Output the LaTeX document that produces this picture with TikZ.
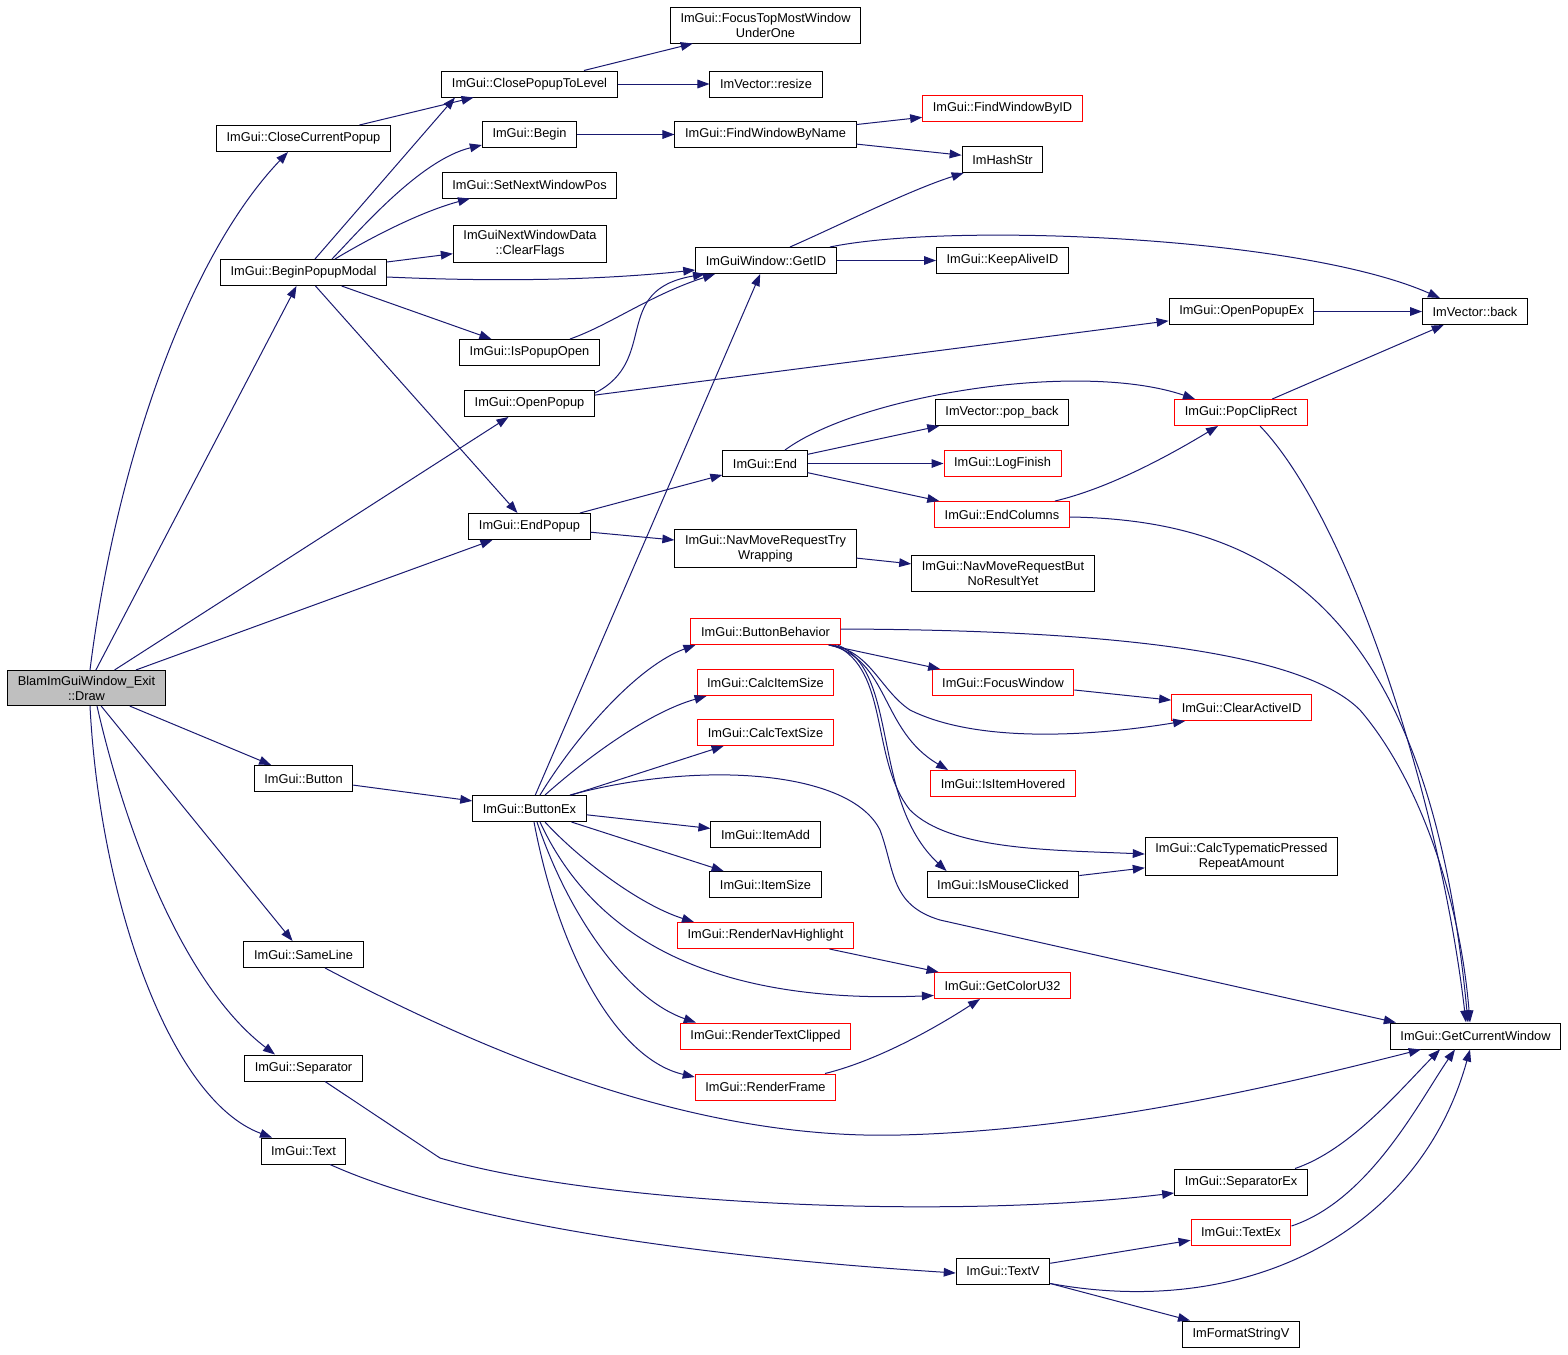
\documentclass[tikz,border=0pt]{standalone}
\usepackage{fontspec}
\setmainfont{Liberation Sans}
\usetikzlibrary{arrows.meta}
\usetikzlibrary{calc}
\definecolor{edgeblue}{HTML}{191970}
\definecolor{rootgray}{HTML}{BFBFBF}

\begin{document}
\begin{tikzpicture}[
      x = 0.75pt, y = -0.75pt,
      fn/.style = {
        draw = black, line width = 0.75pt, fill = white,
        font = \fontsize{9.6}{11.25}\selectfont,
        align = center, inner xsep = 7.6pt, inner ysep = 4pt,
        minimum height = 19.5pt
      },
      truncated/.style = { draw = red },
      root/.style = { fill = rootgray },
      call/.style = {
        draw = edgeblue, line width = 0.75pt,
        -{Triangle[length = 9pt, width = 6.5pt]}
      },
    ]

    \useasboundingbox (0,0) rectangle (1568,1354);

    % callers
    \node[fn, root] (D) at (86.5,688) {BlamImGuiWindow\_Exit\\::Draw};
    \node[fn] (CCP) at (303.5,138.5) {ImGui::CloseCurrentPopup};
    \node[fn] (BPM) at (303.5,272.5) {ImGui::BeginPopupModal};
    \node[fn] (BTN) at (303.5,778.5) {ImGui::Button};
    \node[fn] (SL) at (303.5,954.5) {ImGui::SameLine};
    \node[fn] (SEP) at (303.5,1068) {ImGui::Separator};
    \node[fn] (TXT) at (303.5,1151) {ImGui::Text};

    \node[fn] (CPTL) at (529.5,84) {ImGui::ClosePopupToLevel};
    \node[fn] (BEG) at (529.5,134.5) {ImGui::Begin};
    \node[fn] (SNWP) at (529.5,185) {ImGui::SetNextWindowPos};
    \node[fn] (CLF) at (530,244) {ImGuiNextWindowData\\::ClearFlags};
    \node[fn] (IPO) at (529.5,352.5) {ImGui::IsPopupOpen};
    \node[fn] (OP) at (529.5,403.5) {ImGui::OpenPopup};
    \node[fn] (EPOP) at (529.5,526.5) {ImGui::EndPopup};
    \node[fn] (BEX) at (529.5,808.5) {ImGui::ButtonEx};

    \node[fn] (FTM) at (765.5,25.5) {ImGui::FocusTopMostWindow\\UnderOne};
    \node[fn] (RES) at (766,84) {ImVector::resize};
    \node[fn] (FWBN) at (765.5,134.5) {ImGui::FindWindowByName};
    \node[fn] (GID) at (766,260.5) {ImGuiWindow::GetID};
    \node[fn] (END) at (765,463.5) {ImGui::End};
    \node[fn] (NMRT) at (765.5,548.5) {ImGui::NavMoveRequestTry\\Wrapping};
    \node[fn, truncated] (BB) at (765.5,631.5) {ImGui::ButtonBehavior};
    \node[fn, truncated] (CIS) at (765.5,682.5) {ImGui::CalcItemSize};
    \node[fn, truncated] (CTS) at (765.5,732.5) {ImGui::CalcTextSize};
    \node[fn] (IADD) at (765.5,834.5) {ImGui::ItemAdd};
    \node[fn] (ISIZE) at (765.5,884.5) {ImGui::ItemSize};
    \node[fn, truncated] (RNH) at (765.5,935.5) {ImGui::RenderNavHighlight};
    \node[fn, truncated] (RTC) at (765.5,1036) {ImGui::RenderTextClipped};
    \node[fn, truncated] (RF) at (765.5,1087) {ImGui::RenderFrame};

    \node[fn, truncated] (FWBID) at (1002.5,108.5) {ImGui::FindWindowByID};
    \node[fn] (HASH) at (1002.5,159.5) {ImHashStr};
    \node[fn] (KAID) at (1002.5,260.5) {ImGui::KeepAliveID};
    \node[fn] (POPB) at (1002,412.5) {ImVector::pop\_back};
    \node[fn, truncated] (LOGF) at (1002.5,463.5) {ImGui::LogFinish};
    \node[fn, truncated] (ENDC) at (1002,514.5) {ImGui::EndColumns};
    \node[fn] (NMRB) at (1003,573.5) {ImGui::NavMoveRequestBut\\NoResultYet};
    \node[fn, truncated] (FW) at (1003,682.5) {ImGui::FocusWindow};
    \node[fn, truncated] (IIH) at (1003,783.5) {ImGui::IsItemHovered};
    \node[fn] (IMC) at (1003,884.5) {ImGui::IsMouseClicked};
    \node[fn, truncated] (GCU) at (1002.5,985.5) {ImGui::GetColorU32};
    \node[fn] (TV) at (1003,1271) {ImGui::TextV};

    \node[fn] (OPEX) at (1241.5,311.5) {ImGui::OpenPopupEx};
    \node[fn, truncated] (PCR) at (1241,412.5) {ImGui::PopClipRect};
    \node[fn, truncated] (CAID) at (1241.5,707.5) {ImGui::ClearActiveID};
    \node[fn] (CTP) at (1241.5,856.5) {ImGui::CalcTypematicPressed\\RepeatAmount};
    \node[fn] (SEPEX) at (1241,1182) {ImGui::SeparatorEx};
    \node[fn, truncated] (TEX) at (1241,1232) {ImGui::TextEx};
    \node[fn] (IFS) at (1241,1334) {ImFormatStringV};

    \node[fn] (BACK) at (1475,311.5) {ImVector::back};
    \node[fn] (GCW) at (1475.5,1036) {ImGui::GetCurrentWindow};

    % calls out of Draw
    \draw[call] ($(D.north)+(3.5,0)$) .. controls (115,470) and (185,260) .. ($(CCP.south)+(-15.5,0)$);
    \draw[call] (D) -- (BPM);
    \draw[call] (D) -- (OP);
    \draw[call] (D) -- (EPOP);
    \draw[call] (D) -- (BTN);
    \draw[call] (D) -- (SL);
    \draw[call] ($(D.south)+(10.5,0)$) .. controls (130,850) and (190,990) .. ($(SEP.north)+(-28.5,0)$);
    \draw[call] ($(D.south)+(3.5,0)$) .. controls (100,900) and (170,1100) .. ($(TXT.north)+(-31.5,0)$);

    % popups
    \draw[call] (CCP) -- (CPTL);
    \draw[call] ($(BPM.north)+(11.5,0)$) -- ($(CPTL.south)+(-74.5,0)$);
    \draw[call] ($(BPM.north)+(28.5,0)$) .. controls (360,230) and (420,160) .. ($(BEG.west)+(0,10.5)$);
    \draw[call] ($(BPM.north)+(31.5,0)$) .. controls (370,238) and (420,212) .. ($(SNWP.south)+(-59.5,0)$);
    \draw[call] (BPM) -- (CLF);
    \draw[call] ($(BPM.east)+(0,4.5)$) .. controls (500,282) and (600,280) .. ($(GID.west)+(0,9.5)$);
    \draw[call] (BPM) -- (IPO);
    \draw[call] (BPM) -- (EPOP);
    \draw[call] (CPTL) -- (FTM);
    \draw[call] (CPTL) -- (RES);
    \draw[call] (BEG) -- (FWBN);
    \draw[call] (FWBN) -- (FWBID);
    \draw[call] (FWBN) -- (HASH);
    \draw[call] ($(GID.north)+(24,0)$) .. controls (840,225) and (910,190) .. ($(HASH.south west)+(2,0)$);
    \draw[call] (GID) -- (KAID);
    \draw[call] ($(GID.north)+(64,0)$) .. controls (950,222) and (1300,236) .. ($(BACK.north)+(-35,0)$);
    \draw[call] ($(IPO.north)+(40.5,0)$) .. controls (610,325) and (650,295) .. ($(GID.south)+(-51,0)$);
    \draw[call] ($(OP.east)+(0,-10.5)$) .. controls (660,360) and (610,290) .. ($(GID.south)+(-61,0)$);
    \draw[call] (OP) -- (OPEX);
    \draw[call] (OPEX) -- (BACK);
    \draw[call] (EPOP) -- (END);
    \draw[call] (EPOP) -- (NMRT);
    \draw[call] (NMRT) -- (NMRB);
    \draw[call] ($(END.north)+(20,0)$) .. controls (860,395) and (1080,360) .. ($(PCR.north)+(-46,0)$);
    \draw[call] (END) -- (POPB);
    \draw[call] (END) -- (LOGF);
    \draw[call] (END) -- (ENDC);
    \draw[call] ($(ENDC.north)+(53,0)$) .. controls (1110,488) and (1170,455) .. ($(PCR.south)+(-23,0)$);
    \draw[call] ($(ENDC.east)+(0,2.5)$) .. controls (1280,520) and (1430,620) .. ($(GCW.north)+(-7.5,0)$);
    \draw[call] (PCR) -- (BACK);
    \draw[call] ($(PCR.south)+(19,0)$) .. controls (1350,520) and (1440,800) .. ($(GCW.north)+(-9.5,0)$);

    % buttons
    \draw[call] (BTN) -- (BEX);
    \draw[call] (BEX) -- (GID);
    \draw[call] ($(BEX.north)+(10.5,0)$) .. controls (580,730) and (640,665) .. ($(BB.south west)+(5,0)$);
    \draw[call] ($(BEX.north)+(15.5,0)$) .. controls (590,755) and (650,712) .. ($(CIS.south west)+(10,0)$);
    \draw[call] (BEX) -- (CTS);
    \draw[call] ($(BEX.north)+(40.5,0)$) .. controls (700,760) and (850,770) .. (880,830)
      .. controls (895,870) and (890,905) .. (940,920) -- ($(GCW.north west)+(6,0)$);
    \draw[call] (BEX) -- (IADD);
    \draw[call] (BEX) -- (ISIZE);
    \draw[call] ($(BEX.south)+(15.5,0)$) .. controls (580,860) and (640,905) .. ($(RNH.north west)+(17,0)$);
    \draw[call] ($(BEX.south)+(10.5,0)$) .. controls (590,930) and (700,1005) .. ($(GCU.west)+(0,10)$);
    \draw[call] ($(BEX.south)+(7.5,0)$) .. controls (570,920) and (630,1000) .. ($(RTC.north west)+(16,0)$);
    \draw[call] ($(BEX.south)+(4.5,0)$) .. controls (560,960) and (620,1060) .. ($(RF.west)+(0,-10)$);
    \draw[call] (BB) -- (FW);
    \draw[call] ($(BB.south east)+(-11,0)$) .. controls (870,650) and (880,690) .. (910,710)
      .. controls (980,745) and (1100,735) .. ($(CAID.south west)+(14,0)$);
    \draw[call] ($(BB.south east)+(-11,0)$) .. controls (890,660) and (880,730) .. ($(IIH.north west)+(18,0)$);
    \draw[call] ($(BB.south east)+(-6,0)$) .. controls (890,670) and (870,760) .. (910,810)
      .. controls (950,850) and (1050,850) .. ($(CTP.west)+(0,-2.5)$);
    \draw[call] ($(BB.south east)+(-3,0)$) .. controls (900,670) and (870,800) .. ($(IMC.north west)+(20,0)$);
    \draw[call] ($(BB.east)+(0,-2.5)$) .. controls (1100,630) and (1300,650) .. (1360,710)
      .. controls (1420,780) and (1460,900) .. ($(GCW.north)+(-5.5,0)$);
    \draw[call] (FW) -- (CAID);
    \draw[call] (IMC) -- (CTP);
    \draw[call] (RNH) -- (GCU);
    \draw[call] ($(RF.north)+(59.5,0)$) .. controls (880,1060) and (940,1025) .. ($(GCU.south)+(-22.5,0)$);

    % layout and text
    \draw[call] ($(SL.south)+(21.5,0)$) .. controls (500,1060) and (700,1140) .. (900,1135)
      .. controls (1100,1130) and (1300,1080) .. ($(GCW.south west)+(31,0)$);
    \draw[call] ($(SEP.south)+(21.5,0)$) -- (440,1158) .. controls (600,1205) and (950,1220) .. ($(SEPEX.west)+(0,11)$);
    \draw[call] ($(SEPEX.north)+(54,0)$) .. controls (1350,1150) and (1400,1090) .. ($(GCW.south)+(-35.5,0)$);
    \draw[call] ($(TXT.south)+(26.5,0)$) .. controls (420,1205) and (600,1250) .. ($(TV.west)+(0,2)$);
    \draw[call] (TV) -- (TEX);
    \draw[call] ($(TV.south east)+(0,-1)$) .. controls (1250,1320) and (1420,1230) .. ($(GCW.south)+(-5.5,0)$);
    \draw[call] (TV) -- (IFS);
    \draw[call] ($(TEX.east)+(0,-6)$) .. controls (1370,1200) and (1420,1100) .. ($(GCW.south)+(-20.5,0)$);
  \end{tikzpicture}
\end{document}
